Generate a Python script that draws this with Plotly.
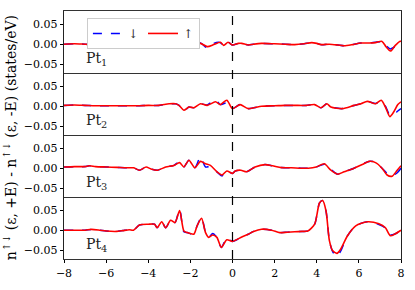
import plotly.graph_objects as go
from plotly.subplots import make_subplots

# ---------------- data ----------------
x1 = [-8, -7.5, -7, -6.5, -6, -5.5, -5, -4.6, -4.4, -4.19, -3.95, -3.5, -3.2, -2.86, -2.54,
      -2.31, -2.07, -1.84, -1.52, -1.2, -0.89, -0.58, -0.42, -0.21, 0, 0.28, 0.44, 0.75, 1.0,
      1.38, 2.0, 2.5, 2.95, 3.4, 3.76, 4.0, 4.2, 4.6, 5.0, 5.3, 5.7, 6.09, 6.5, 6.79, 7.1,
      7.3, 7.5, 7.73, 7.94, 8]
up1 = [0, 0.001, 0, -0.001, 0, 0.001, 0.002, 0.002, 0.001, 0.006, -0.001, 0, 0.001, 0.002, 0.007,
       -0.004, 0.005, -0.003, 0.002, -0.006, -0.001, 0.005, -0.003, 0.005, -0.002, 0.002, 0.002, -0.002, 0,
       0.002, 0.001, 0, -0.001, 0.001, 0.004, 0.002, -0.001, 0, -0.002, -0.004, -0.001, 0.003, 0.003, 0.004, 0.007,
       -0.007, -0.017, -0.003, 0.007, 0.007]
down1 = [0, 0.001, 0, -0.001, 0, 0.001, 0.002, 0.002, 0.001, 0.006, -0.001, 0, 0.001, 0.002, 0.008,
         -0.009, 0.005, -0.003, 0.003, -0.009, 0.002, 0.004, -0.004, 0.005, -0.002, 0.002, 0.002, -0.002, 0,
         0.002, 0.001, 0, -0.001, 0.001, 0.004, 0.002, -0.001, 0, -0.002, -0.004, -0.001, 0.003, 0.003, 0.005, 0.006,
         -0.004, -0.012, -0.006, -0.007, -0.004]

x2 = [-8, -7.5, -7, -6.5, -6, -5.5, -5, -4.5, -4, -3.5, -3.01, -2.7, -2.54, -2.31, -2.07, -1.84,
      -1.52, -1.2, -0.81, -0.58, -0.27, 0, 0.36, 0.75, 1.38, 2.0, 2.5, 2.95, 3.5, 3.9, 4.2, 4.48,
      4.67, 5.22, 5.77, 6.1, 6.4, 6.79, 7.06, 7.26, 7.47, 7.66, 7.85, 8]
up2 = [0.002, 0.003, 0.002, 0.001, 0.001, 0.001, 0.001, 0.001, 0.002, 0.002, 0.006, 0.006, 0.002, -0.01,
       -0.002, -0.004, 0.006, 0.002, 0.011, 0.004, 0.015, -0.006, 0.004, -0.006, 0, 0.001, 0.002, 0.002,
       0.002, 0.004, -0.004, 0.006, -0.002, -0.006, 0.002, 0.006, 0.012, 0.006, 0.015, -0.002, -0.026,
       -0.014, 0.004, 0.011]
down2 = [0.002, 0.003, 0.002, 0.001, 0.001, 0.001, 0.001, 0.001, 0.002, 0.002, 0.006, 0.006, 0.002, -0.012,
         -0.002, -0.004, 0.006, 0.003, 0.016, 0.004, 0.008, -0.006, 0.004, -0.006, 0, 0.001, 0.002, 0.002,
         0.002, 0.004, -0.004, 0.006, -0.002, -0.006, 0.002, 0.006, 0.012, 0.007, 0.012, 0.0, -0.022,
         -0.02, -0.012, -0.006]

x3 = [-8, -7.5, -7, -6.8, -6.5, -6, -5.5, -5, -4.7, -4.42, -4.1, -3.87, -3.56, -3.17, -2.78, -2.51,
      -2.31, -2.07, -1.79, -1.52, -1.28, -1.05, -0.74, -0.5, -0.27, 0, 0.13, 0.4, 0.67, 1.07, 1.54,
      1.9, 2.32, 2.8, 3.26, 3.6, 3.97, 4.36, 4.67, 4.99, 5.3, 5.77, 6.16, 6.48, 6.79, 7.1, 7.34,
      7.58, 7.81, 8]
up3 = [0.003, 0.004, 0.004, 0.006, 0.004, 0.003, 0.002, 0.001, 0.001, -0.005, 0.003, -0.002, -0.005,
       0.003, 0.007, 0.014, 0.003, 0.02, 0.001, 0.017, 0.011, 0.007, -0.009, -0.017, -0.007, -0.013,
       -0.007, -0.005, -0.009, 0.003, 0.009, 0.006, 0.0015, 0.001, 0, 0, 0.003, 0.011, -0.005, -0.015,
       -0.009, 0, 0.009, 0.017, 0.014, 0, -0.017, -0.02, -0.006, 0.006]
down3 = [0.003, 0.004, 0.004, 0.006, 0.004, 0.003, 0.002, 0.001, 0.001, -0.005, 0.003, -0.002, -0.005,
         0.003, 0.007, 0.016, 0.003, 0.02, 0.001, 0.028, 0.003, 0.004, -0.009, -0.019, -0.007, -0.013,
         -0.007, -0.005, -0.009, 0.003, 0.009, 0.006, 0.0015, 0.001, 0, 0, 0.003, 0.01, -0.003, -0.015,
         -0.009, 0, 0.01, 0.017, 0.015, 0, -0.013, -0.018, -0.012, 0.0]

x4 = [-8, -7.5, -7, -6.7, -6.3, -6, -5.5, -5.2, -4.9, -4.7, -4.42, -4.0, -3.7, -3.58, -3.36, -3.17,
      -2.94, -2.73, -2.51, -2.31, -2.15, -1.84, -1.68, -1.47, -1.28, -1.13, -0.94, -0.74, -0.53,
      -0.27, 0, 0.44, 0.75, 1.0, 1.38, 1.85, 2.24, 2.6, 2.95, 3.3, 3.58, 3.9, 4.13, 4.28, 4.44,
      4.6, 4.75, 4.96, 5.14, 5.46, 5.85, 6.4, 6.95, 7.26, 7.5, 7.73, 8]
up4 = [0, 0, 0, 0.002, 0, -0.002, -0.003, -0.001, 0.001, 0, 0.013, 0.015, 0.015, 0.006, 0.021, 0.006,
       0.025, 0.019, 0.049, -0.002, -0.006, -0.01, 0.011, 0.03, -0.006, -0.018, -0.012, -0.018, -0.043,
       -0.024, -0.028, -0.017, -0.01, -0.003, 0.0025, 0, -0.006, -0.005, -0.004, -0.003, -0.002, 0.015,
       0.068, 0.074, 0.048, -0.026, -0.051, -0.058, -0.047, -0.014, 0.011, 0.021, 0.016, 0.006, -0.014,
       -0.009, 0]
down4 = [0, 0, 0, 0.002, 0, -0.002, -0.003, -0.001, 0.001, 0, 0.013, 0.015, 0.015, 0.006, 0.021, 0.006,
         0.025, 0.019, 0.052, -0.004, -0.006, -0.01, 0.011, 0.033, -0.006, -0.018, -0.008, -0.018, -0.043,
         -0.02, -0.028, -0.017, -0.01, -0.003, 0.0025, 0, -0.006, -0.005, -0.004, -0.003, -0.002, 0.015,
         0.068, 0.074, 0.048, -0.026, -0.053, -0.066, -0.052, -0.014, 0.011, 0.021, 0.014, 0.006, -0.012,
         -0.009, 0]

panels = [("Pt<sub>1</sub>", x1, down1, up1),
          ("Pt<sub>2</sub>", x2, down2, up2),
          ("Pt<sub>3</sub>", x3, down3, up3),
          ("Pt<sub>4</sub>", x4, down4, up4)]

y_ticks = [-0.05, 0.0, 0.05]
y_ticktext = ["\u22120.05", "0.00", "0.05"]
x_ticks = [-8, -6, -4, -2, 0, 2, 4, 6, 8]
x_ticktext = ["\u22128", "\u22126", "\u22124", "\u22122", "0", "2", "4", "6", "8"]

FONT = "DejaVu Serif"

fig = make_subplots(rows=4, cols=1, shared_xaxes=True, vertical_spacing=0)

for i, (name, xs, dn, upv) in enumerate(panels, start=1):
    fig.add_trace(go.Scatter(x=xs, y=dn, mode="lines", name="\u2193",
                             line=dict(color="#0000ff", width=1.5, dash="dash",
                                       shape="spline", smoothing=0.7),
                             showlegend=(i == 1)), row=i, col=1)
    fig.add_trace(go.Scatter(x=xs, y=upv, mode="lines", name="\u2191",
                             line=dict(color="#ff0000", width=1.6,
                                       shape="spline", smoothing=0.7),
                             showlegend=(i == 1)), row=i, col=1)
    fig.add_annotation(text=name, x=-7.05, y=-0.036, xref=f"x{i if i > 1 else ''}",
                       yref=f"y{i if i > 1 else ''}", xanchor="left", yanchor="middle",
                       showarrow=False, font=dict(family=FONT, size=14, color="#222"))
    fig.update_yaxes(range=[-0.072, 0.083], tickvals=y_ticks, ticktext=y_ticktext,
                     showgrid=False, zeroline=False, showline=True, mirror=True,
                     linecolor="#222", linewidth=0.8, ticks="outside", ticklen=3.5,
                     tickwidth=0.8, tickcolor="black",
                     tickfont=dict(family=FONT, size=11, color="black"), row=i, col=1)
    fig.update_xaxes(range=[-8, 8], tickvals=x_ticks, ticktext=x_ticktext,
                     showgrid=False, zeroline=False,
                     showline=True, mirror=(i == 1), linecolor="#333", linewidth=0.9,
                     ticks="outside" if i == 4 else "", ticklen=3.5, tickwidth=0.8,
                     tickcolor="black", showticklabels=(i == 4),
                     tickfont=dict(family=FONT, size=11, color="black"), row=i, col=1)

fig.add_shape(type="line", x0=0, x1=0, xref="x", y0=0, y1=1, yref="paper",
              line=dict(color="black", width=1.2, dash="dash"))

fig.add_annotation(text="n<sup>\u2191\u2193</sup> (\u03b5, +E) - n<sup>\u2191\u2193</sup> (\u03b5, -E) (states/eV)",
                   x=-0.158, y=0.49, xref="paper", yref="paper", textangle=-90,
                   showarrow=False, xanchor="center", yanchor="middle",
                   font=dict(family=FONT, size=14, color="black"))

fig.update_layout(
    width=415, height=290,
    margin=dict(l=64, r=11, t=10, b=26),
    paper_bgcolor="white", plot_bgcolor="white",
    legend=dict(orientation="h", x=0.068, y=0.972, xanchor="left", yanchor="top",
                bgcolor="white", bordercolor="#cccccc", borderwidth=1,
                font=dict(family=FONT, size=12, color="#333"), itemwidth=30,
                tracegroupgap=0),
    font=dict(family=FONT, color="black"),
)

fig.write_html("out.html", config={"displayModeBar": False},
               post_script="document.body.style.margin='0';document.body.style.overflow='hidden';")
